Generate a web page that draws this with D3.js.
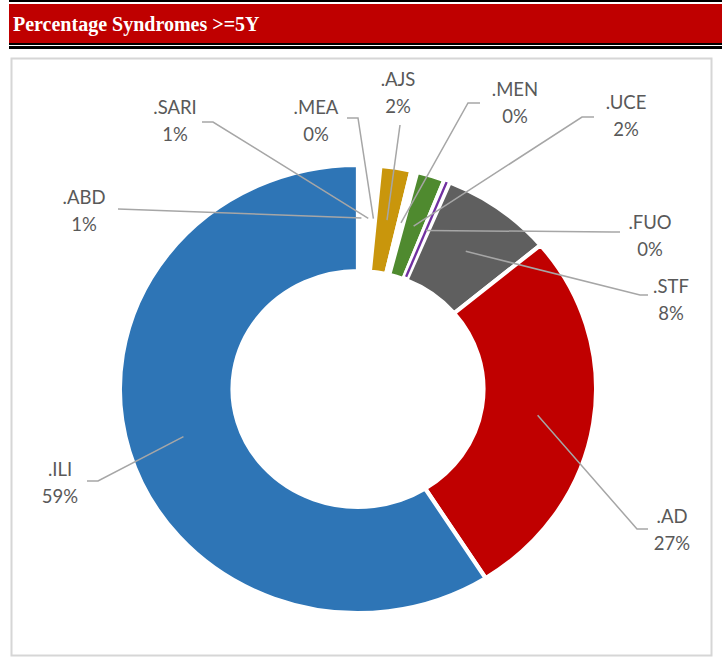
<!DOCTYPE html>
<html>
<head>
<meta charset="utf-8">
<script src="https://cdn.jsdelivr.net/npm/d3@7"></script>
<style>
  body { margin: 0; background: #fff; }
</style>
</head>
<body>
<div id="chart"></div>
<script>
// data (clockwise from 12 o'clock)
var syndromes = [".ABD", ".SARI", ".MEA", ".AJS", ".MEN", ".UCE", ".FUO", ".STF", ".AD", ".ILI"];
var shares = [0.6, 0.6, 0.3, 2.1, 0.4, 1.9, 0.4, 7.6, 27.1, 59.0];
var shownPct = ["1%", "1%", "0%", "2%", "0%", "2%", "0%", "8%", "27%", "59%"];
var sliceColors = ["#ffffff", "#ffffff", "#ffffff", "#c9960c", "#ffffff", "#4f8a2f", "#7030a0", "#5f5f5f", "#c00000", "#2e75b6"];

// label layout only: text centre x, first baseline y, leader start/elbow x, leader y
var labelLayout = {
  ".ABD":  { x: 84,  y: 204, lx0: 118, lx1: 118, ly: 209 },
  ".SARI": { x: 175, y: 114, lx0: 202, lx1: 213, ly: 122 },
  ".MEA":  { x: 316, y: 114, lx0: 347, lx1: 358, ly: 118 },
  ".AJS":  { x: 398, y: 86,  lx0: 400, lx1: 400, ly: 125 },
  ".MEN":  { x: 515, y: 96,  lx0: 480, lx1: 468, ly: 103 },
  ".UCE":  { x: 626, y: 109, lx0: 594, lx1: 582, ly: 117 },
  ".FUO":  { x: 650, y: 229, lx0: 620, lx1: 612, ly: 232 },
  ".STF":  { x: 671, y: 293, lx0: 648, lx1: 640, ly: 295 },
  ".AD":   { x: 672, y: 523, lx0: 648, lx1: 637, ly: 529 },
  ".ILI":  { x: 60,  y: 476, lx0: 87,  lx1: 98,  ly: 481 }
};

var W = 722, H = 659;
var cx = 358, cy = 389, outerR = 224, innerR = 118, sx = 1.063;

var svg = d3.select("#chart")
  .append("svg")
  .attr("width", W)
  .attr("height", H);

// header band
svg.append("rect").attr("x", 9).attr("y", 0).attr("width", W - 9).attr("height", 2).attr("fill", "#000");
svg.append("rect").attr("x", 9).attr("y", 4).attr("width", W - 9).attr("height", 39).attr("fill", "#bf0000");
svg.append("rect").attr("x", 9).attr("y", 43).attr("width", W - 9).attr("height", 2).attr("fill", "#000");
svg.append("rect").attr("x", 9).attr("y", 46).attr("width", W - 9).attr("height", 3).attr("fill", "#000");
svg.append("text")
  .attr("x", 13)
  .attr("y", 31)
  .style("font-family", "'Liberation Serif', 'Times New Roman', serif")
  .style("font-weight", "bold")
  .style("font-size", "20px")
  .style("fill", "#fff")
  .text("Percentage Syndromes >=5Y");

// chart panel
svg.append("rect")
  .attr("x", 11.5).attr("y", 58.5)
  .attr("width", 700).attr("height", 597)
  .attr("fill", "#fff")
  .attr("stroke", "#d6d6d6")
  .attr("stroke-width", 2);

var rows = syndromes.map(function (s, i) {
  return { name: s, value: shares[i], pct: shownPct[i], color: sliceColors[i] };
});

var pie = d3.pie().sort(null).value(function (d) { return d.value; });
var arc = d3.arc().innerRadius(innerR).outerRadius(outerR);
var midR = (innerR + outerR) / 2;
var midArc = d3.arc().innerRadius(midR).outerRadius(midR);
var arcs = pie(rows);

var ring = svg.append("g")
  .attr("transform", "translate(" + cx + "," + cy + ") scale(" + sx + ",1)");

ring.selectAll("path")
  .data(arcs)
  .enter()
  .append("path")
  .attr("d", arc)
  .attr("fill", function (d) { return d.data.color; })
  .attr("stroke", "#fff")
  .attr("stroke-width", 4);

// the FUO slice is thinner than the white borders, draw it as a purple rule
var fuo = arcs.filter(function (d) { return d.data.name === ".FUO"; })[0];
var fuoA = (fuo.startAngle + fuo.endAngle) / 2;
ring.append("line")
  .attr("x1", (innerR + 3) * Math.sin(fuoA))
  .attr("y1", -(innerR + 3) * Math.cos(fuoA))
  .attr("x2", (outerR - 1) * Math.sin(fuoA))
  .attr("y2", -(outerR - 1) * Math.cos(fuoA))
  .attr("stroke", fuo.data.color)
  .attr("stroke-width", 2.2);

// leader lines
svg.append("g").selectAll("polyline")
  .data(arcs)
  .enter()
  .append("polyline")
  .attr("points", function (d) {
    var lay = labelLayout[d.data.name];
    var c = midArc.centroid(d);
    var px = cx + sx * c[0], py = cy + c[1];
    return [[lay.lx0, lay.ly], [lay.lx1, lay.ly], [px, py]]
      .map(function (p) { return p.join(","); }).join(" ");
  })
  .attr("fill", "none")
  .attr("stroke", "#a6a6a6")
  .attr("stroke-width", 1.5);

// labels
var labels = svg.append("g").selectAll("text")
  .data(arcs)
  .enter()
  .append("text")
  .attr("text-anchor", "middle")
  .style("font-family", "Lato, 'Open Sans', sans-serif")
  .style("font-size", "18.5px")
  .style("fill", "#595959");

labels.append("tspan")
  .attr("x", function (d) { return labelLayout[d.data.name].x; })
  .attr("y", function (d) { return labelLayout[d.data.name].y; })
  .text(function (d) { return d.data.name; });

labels.append("tspan")
  .attr("x", function (d) { return labelLayout[d.data.name].x; })
  .attr("y", function (d) { return labelLayout[d.data.name].y + 27; })
  .text(function (d) { return d.data.pct; });
</script>
</body>
</html>
